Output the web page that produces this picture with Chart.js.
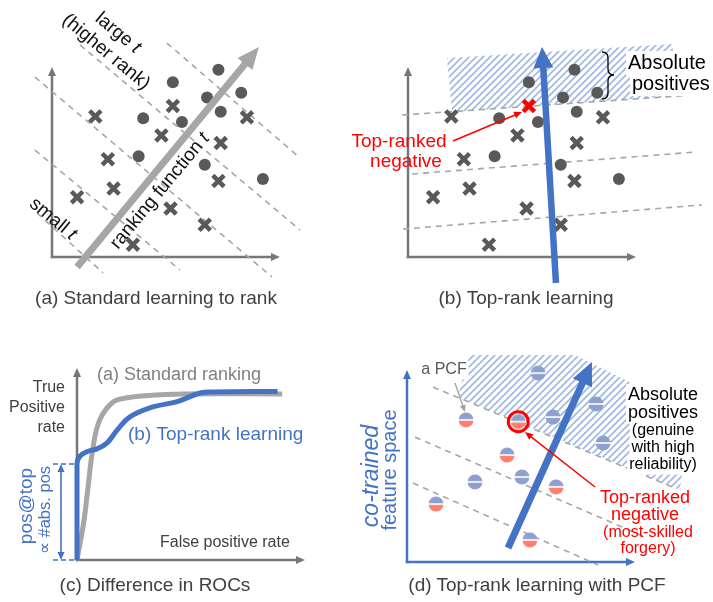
<!DOCTYPE html>
<html lang="en">
<head>
<meta charset="UTF-8">
<title>Top-rank learning</title>
<script src="https://cdn.jsdelivr.net/npm/chart.js@4"></script>
<style>
  body { margin: 0; background: #fff; }
  #wrap { position: relative; width: 713px; height: 602px; font-family: "Liberation Sans", Arial, sans-serif; }
  #wrap canvas { position: absolute; }
  .cap { position: absolute; color: #404040; font-size: 19px; line-height: 22px; white-space: nowrap; transform: translateX(-50%); }
</style>
</head>
<body>
<div id="wrap">
  <canvas id="panelA" width="330" height="300" style="left:0;top:0"></canvas>
  <canvas id="panelB" width="383" height="300" style="left:330px;top:0"></canvas>
  <canvas id="panelC" width="356" height="240" style="left:0;top:340px"></canvas>
  <canvas id="panelD" width="357" height="240" style="left:356px;top:340px"></canvas>
  <div class="cap" style="left:156px;top:287px">(a) Standard learning to rank</div>
  <div class="cap" style="left:526px;top:287px">(b) Top-rank learning</div>
  <div class="cap" style="left:155px;top:574px">(c) Difference in ROCs</div>
  <div class="cap" style="left:537px;top:574px">(d) Top-rank learning with PCF</div>
</div>
<script>
// samples shared by (a) and (b)
const positives = [[7.3, 9.85], [5.3, 9.2], [6.8, 8.4], [8.3, 8.65], [4.0, 7.3], [5.7, 7.1], [7.4, 7.65], [3.8, 5.3], [6.7, 4.85], [9.25, 4.1]];
const negatives = [[1.9, 7.4], [5.3, 7.95], [8.55, 7.35], [4.8, 6.4], [7.4, 6.0], [2.45, 5.15], [2.7, 3.6], [7.3, 4.0], [1.1, 3.15], [5.2, 2.55], [6.7, 1.7], [3.55, 0.65]];
const topNegative = 1;

// (a) iso-score lines and ranking direction
const levelsA = [[[5.04, 11.26], [10.88, 5.21]], [[1.23, 11.16], [10.88, 1.42]], [[-0.75, 9.47], [9.65, -1.05]], [[-0.75, 5.63], [5.61, -0.68]], [[-0.66, 2.32], [2.24, -0.84]]];
const rankA = [[1.1, -0.53], [9.08, 11.05]];

// (b)
const levelsB = [[[-0.26, 7.47], [12.5, 8.53]], [[0.18, 4.37], [12.68, 5.53]], [[-0.22, 1.47], [12.89, 2.74]]];
const rankB = [[6.49, -1.37], [5.88, 11.05]];
const absPosB = [[1.71, 10.47], [11.62, 11.21], [11.62, 8.47], [1.93, 7.63]];

// (c) ROC curves
const fprStandard = [0, 0.03, 0.048, 0.07, 0.10, 0.158, 0.22, 0.30, 0.465, 0.90];
const tprStandard = [0, 0.2, 0.375, 0.583, 0.73, 0.823, 0.845, 0.856, 0.865, 0.865];
const fprTopRank = [0, 0, 0.012, 0.045, 0.09, 0.132, 0.175, 0.232, 0.333, 0.44, 0.54, 0.60, 0.88];
const tprTopRank = [0, 0.5, 0.54, 0.565, 0.58, 0.61, 0.675, 0.745, 0.797, 0.825, 0.87, 0.875, 0.878];

// (d) genuine samples and PCF samples
const genuine = [[5.75, 9.84], [8.29, 8.23], [6.4, 7.55], [8.6, 6.2], [2.98, 4.17], [5.04, 4.43]];
const pcf = [[4.88, 7.31], [2.59, 7.4], [4.39, 5.57], [6.54, 3.91], [1.27, 3.02], [5.39, 1.15]];
const topForgery = 0;
const levelsD = [[[1.14, 9.11], [11.75, 3.85]], [[0.35, 6.51], [10.44, 1.3]], [[0.26, 4.11], [8.38, -0.16]]];
const rankD = [[4.43, 0.73], [8.11, 10.42]];
const absPosD = [[2.24, 8.59], [2.68, 10.78], [7.37, 10.78], [12.41, 7.81], [11.97, 3.75]];

const BLUE = '#4472c4', GRAY = '#777', DARK = '#595959', RED = '#ff0000';
const FONT = '"Liberation Sans", Arial, sans-serif';

const pts = arr => arr.map(([x, y]) => ({ x, y }));
const P = (c, [x, y]) => [c.scales.x.getPixelForValue(x), c.scales.y.getPixelForValue(y)];

function arrow(ctx, x0, y0, x1, y1, w, hl, hw, color) {
  const a = Math.atan2(y1 - y0, x1 - x0);
  const bx = x1 - Math.cos(a) * hl, by = y1 - Math.sin(a) * hl;
  ctx.save();
  ctx.strokeStyle = color; ctx.fillStyle = color; ctx.lineWidth = w;
  ctx.beginPath(); ctx.moveTo(x0, y0); ctx.lineTo(bx + Math.cos(a), by + Math.sin(a)); ctx.stroke();
  ctx.beginPath(); ctx.moveTo(x1, y1);
  ctx.lineTo(bx - Math.sin(a) * hw / 2, by + Math.cos(a) * hw / 2);
  ctx.lineTo(bx + Math.sin(a) * hw / 2, by - Math.cos(a) * hw / 2);
  ctx.closePath(); ctx.fill();
  ctx.restore();
}

function label(ctx, parts, x, y, o) {
  o = Object.assign({ size: 17, color: '#111', align: 'center', angle: 0 }, o);
  if (typeof parts === 'string') parts = [[parts, false]];
  const font = it => `${it ? 'italic ' : ''}${o.size}px ${FONT}`;
  let total = 0;
  const widths = parts.map(([t, it]) => { ctx.font = font(it); const w = ctx.measureText(t).width; total += w; return w; });
  ctx.save();
  ctx.translate(x, y); ctx.rotate(o.angle);
  let cx = o.align === 'center' ? -total / 2 : o.align === 'right' ? -total : 0;
  if (o.bg) { ctx.fillStyle = o.bg; ctx.fillRect(cx - 2, -o.size * 0.6, total + 4, o.size * 1.2); }
  ctx.textBaseline = 'middle'; ctx.textAlign = 'left'; ctx.fillStyle = o.color;
  parts.forEach(([t, it], i) => { ctx.font = font(it); ctx.fillText(t, cx, 0); cx += widths[i]; });
  ctx.restore();
}

function axes(chart, color) {
  const ctx = chart.ctx;
  const o = P(chart, [0, 0]), xe = P(chart, [chart.scales.x.max, 0]), ye = P(chart, [0, chart.scales.y.max]);
  arrow(ctx, o[0] - 1.2, o[1], xe[0], xe[1], 2.5, 9, 8, color);
  arrow(ctx, o[0], o[1] + 1.2, ye[0], ye[1], 2.5, 9, 8, color);
}

function hatchPattern(ctx) {
  const c = document.createElement('canvas'); c.width = c.height = 7;
  const g = c.getContext('2d');
  g.strokeStyle = '#a3bbe2'; g.lineWidth = 1.8;
  g.beginPath(); g.moveTo(0, 7); g.lineTo(7, 0); g.moveTo(-3.5, 3.5); g.lineTo(3.5, -3.5); g.moveTo(3.5, 10.5); g.lineTo(10.5, 3.5); g.stroke();
  return ctx.createPattern(c, 'repeat');
}

function fillShape(chart, poly) {
  const ctx = chart.ctx;
  ctx.save();
  ctx.beginPath();
  poly.forEach((p, i) => { const [x, y] = P(chart, p); i ? ctx.lineTo(x, y) : ctx.moveTo(x, y); });
  ctx.closePath();
  ctx.fillStyle = hatchPattern(ctx);
  ctx.fill();
  ctx.restore();
}

function dashed(seg) {
  return { data: pts(seg), showLine: true, pointRadius: 0, borderColor: '#a6a6a6', borderWidth: 1.6, borderDash: [6, 5], clip: false };
}

function baseOptions(pad, xmax, ymax) {
  return {
    responsive: false, animation: false, events: [],
    layout: { padding: pad },
    plugins: { legend: { display: false }, tooltip: { enabled: false } },
    scales: {
      x: { type: 'linear', display: false, min: 0, max: xmax },
      y: { type: 'linear', display: false, min: 0, max: ymax }
    }
  };
}

// half-filled markers used in (d)
function dotImage(bottom) {
  const c = document.createElement('canvas'); c.width = c.height = 16;
  const g = c.getContext('2d');
  g.fillStyle = '#8fa0cf'; g.beginPath(); g.arc(8, 8, 7.5, Math.PI, 0); g.fill();
  g.fillStyle = bottom; g.beginPath(); g.arc(8, 8, 7.5, 0, Math.PI); g.fill();
  g.strokeStyle = '#fff'; g.lineWidth = 1.6; g.beginPath(); g.moveTo(0, 8); g.lineTo(16, 8); g.stroke();
  return c;
}

const posDot = { pointStyle: 'circle', pointRadius: 6, backgroundColor: DARK, borderWidth: 0, clip: false };

// ---------- (a) standard learning to rank ----------
new Chart(document.getElementById('panelA'), {
  type: 'scatter',
  data: {
    datasets: [
      Object.assign({ data: pts(positives) }, posDot),
      { data: pts(negatives), pointStyle: 'crossRot', pointRadius: 8, borderColor: DARK, borderWidth: 4.5, clip: false },
      ...levelsA.map(dashed)
    ]
  },
  options: baseOptions({ left: 52, top: 67, right: 50, bottom: 43 }, 10, 10),
  plugins: [{
    id: 'panelA',
    beforeDatasetsDraw(chart) { axes(chart, GRAY); },
    afterDatasetsDraw(chart) {
      const ctx = chart.ctx;
      const [a, b] = rankA.map(p => P(chart, p));
      arrow(ctx, a[0], a[1], b[0], b[1], 7, 22, 19, '#a6a6a6');
      const up = 0.69, along = -0.88;
      label(ctx, [['large ', false], ['t', true]], 118, 33, { size: 19, angle: up });
      label(ctx, '(higher rank)', 106, 52, { size: 19, angle: up });
      label(ctx, [['small ', false], ['t', true]], 53, 219, { size: 19, angle: up });
      label(ctx, [['ranking function ', false], ['t', true]], 160, 191, { size: 19, angle: along });
    }
  }]
});

// ---------- (b) top-rank learning ----------
// canvas starts 26px left of the panel so the red label has room
const offB = 26;
new Chart(document.getElementById('panelB'), {
  type: 'scatter',
  data: {
    datasets: [
      Object.assign({ data: pts(positives) }, posDot),
      { data: pts(negatives), pointStyle: 'crossRot', pointRadius: 8,
        borderColor: negatives.map((p, i) => i === topNegative ? RED : DARK), borderWidth: 4.5, clip: false },
      ...levelsB.map(dashed)
    ]
  },
  options: baseOptions({ left: 52 + offB, top: 67, right: 77, bottom: 43 }, 10, 10),
  plugins: [{
    id: 'panelB',
    beforeDatasetsDraw(chart) { fillShape(chart, absPosB); axes(chart, GRAY); },
    afterDatasetsDraw(chart) {
      const ctx = chart.ctx;
      const [a, b] = rankB.map(p => P(chart, p));
      arrow(ctx, a[0], a[1], b[0], b[1], 6.5, 21, 20, BLUE);
      label(ctx, 'Absolute', 272 + offB, 63, { size: 20, align: 'left', color: '#000', bg: '#fff' });
      label(ctx, 'positives', 276 + offB, 84, { size: 20, align: 'left', color: '#000', bg: '#fff' });
      // curly brace
      ctx.save();
      ctx.translate(offB, 0);
      ctx.strokeStyle = '#000'; ctx.lineWidth = 1.3;
      ctx.beginPath();
      ctx.moveTo(246, 52); ctx.quadraticCurveTo(252, 52, 252, 58); ctx.lineTo(252, 69);
      ctx.quadraticCurveTo(252, 75, 258, 75); ctx.quadraticCurveTo(252, 75, 252, 81);
      ctx.lineTo(252, 93); ctx.quadraticCurveTo(252, 99, 246, 99);
      ctx.stroke();
      ctx.restore();
      label(ctx, 'Top-ranked', 43 + offB, 142, { size: 19, color: RED });
      label(ctx, 'negative', 50 + offB, 162, { size: 19, color: RED });
      arrow(ctx, 97 + offB, 141, 166 + offB, 112, 1.5, 8, 7, RED);
    }
  }]
});

// ---------- (c) ROC comparison ----------
new Chart(document.getElementById('panelC'), {
  type: 'scatter',
  data: {
    datasets: [
      { data: fprTopRank.map((x, i) => ({ x, y: tprTopRank[i] })), showLine: true, tension: 0.4, pointRadius: 0,
        borderColor: BLUE, borderWidth: 5, borderJoinStyle: 'round', clip: false },
      { data: fprStandard.map((x, i) => ({ x, y: tprStandard[i] })), showLine: true, tension: 0.4, pointRadius: 0,
        borderColor: '#a6a6a6', borderWidth: 5, borderJoinStyle: 'round', clip: false }
    ]
  },
  options: baseOptions({ left: 77, top: 28, right: 51, bottom: 20 }, 1, 1),
  plugins: [{
    id: 'panelC',
    beforeDatasetsDraw(chart) {
      const ctx = chart.ctx;
      axes(chart, GRAY);
      const [, yTop] = P(chart, [0, tprTopRank[1]]);
      const [x0, yBot] = P(chart, [0, 0]);
      ctx.save();
      ctx.strokeStyle = BLUE; ctx.lineWidth = 1.5; ctx.setLineDash([5, 3]);
      ctx.beginPath(); ctx.moveTo(53, yTop); ctx.lineTo(x0, yTop); ctx.moveTo(53, yBot); ctx.lineTo(x0, yBot); ctx.stroke();
      ctx.restore();
      const mid = (yTop + yBot) / 2;
      arrow(ctx, 61, mid, 61, yTop, 1.6, 8, 7, BLUE);
      arrow(ctx, 61, mid, 61, yBot, 1.6, 8, 7, BLUE);
    },
    afterDatasetsDraw(chart) {
      const ctx = chart.ctx;
      label(ctx, '(a) Standard ranking', 97, 35, { size: 18, align: 'left', color: '#808080' });
      ['True', 'Positive', 'rate'].forEach((t, i) => label(ctx, t, 65, 48 + i * 20, { size: 16, align: 'right', color: '#404040' }));
      label(ctx, '(b) Top-rank learning', 128, 95, { size: 19, align: 'left', color: BLUE });
      label(ctx, 'False positive rate', 160, 203, { size: 16, align: 'left', color: '#404040' });
      label(ctx, 'pos@top', 27, 166, { size: 19, color: BLUE, angle: -Math.PI / 2 });
      label(ctx, '\u221d #abs. pos', 45, 170, { size: 16.5, color: BLUE, angle: -Math.PI / 2 });
    }
  }]
});

// ---------- (d) top-rank learning with PCF ----------
new Chart(document.getElementById('panelD'), {
  type: 'scatter',
  data: {
    datasets: [
      { data: pts([pcf[topForgery]]), pointStyle: 'circle', pointRadius: 10, backgroundColor: 'rgba(0,0,0,0)',
        borderColor: RED, borderWidth: 3, clip: false },
      { data: pts(genuine), pointStyle: dotImage('#8fa0cf'), pointRadius: 8, clip: false },
      { data: pts(pcf), pointStyle: dotImage('#ff806f'), pointRadius: 8, clip: false },
      ...levelsD.map(dashed)
    ]
  },
  options: baseOptions({ left: 51, top: 30, right: 78, bottom: 18 }, 10, 10),
  plugins: [{
    id: 'panelD',
    beforeDatasetsDraw(chart) { fillShape(chart, absPosD); axes(chart, BLUE); },
    afterDatasetsDraw(chart) {
      const ctx = chart.ctx;
      const [a, b] = rankD.map(p => P(chart, p));
      arrow(ctx, a[0], a[1], b[0], b[1], 7, 23, 21, BLUE);
      label(ctx, 'a PCF', 88, 30, { size: 16, color: DARK, bg: '#fff' });
      arrow(ctx, 99, 43, 109, 72, 1.3, 7, 6, '#a0a0a0');
      label(ctx, 'Absolute', 307, 55, { size: 18, color: '#000', bg: '#fff' });
      label(ctx, 'positives', 307, 73, { size: 18, color: '#000', bg: '#fff' });
      ['(genuine', 'with high', 'reliability)'].forEach((t, i) => label(ctx, t, 307, 91 + i * 17, { size: 16, color: '#000', bg: '#fff' }));
      label(ctx, 'Top-ranked', 289, 158, { size: 18, color: RED });
      label(ctx, 'negative', 289, 175, { size: 18, color: RED });
      label(ctx, '(most-skilled', 292, 193, { size: 16, color: RED });
      label(ctx, 'forgery)', 292, 209, { size: 16, color: RED });
      arrow(ctx, 239, 147, 169, 92, 1.5, 8, 7, RED);
      label(ctx, [['co-trained', true]], 16, 136, { size: 23, color: BLUE, angle: -Math.PI / 2 });
      label(ctx, 'feature space', 34, 130, { size: 20, color: BLUE, angle: -Math.PI / 2 });
    }
  }]
});
</script>
</body>
</html>
